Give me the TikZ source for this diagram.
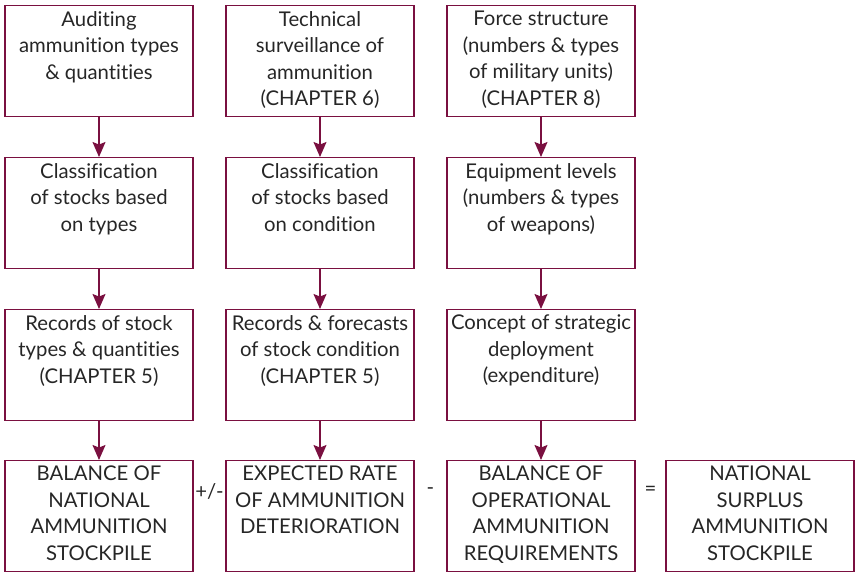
\documentclass[tikz,border=0pt]{standalone}
\usepackage{fontspec}
\setmainfont{Lato}[Ligatures=NoCommon]
\usetikzlibrary{arrows.meta,calc}

\begin{document}
\begin{tikzpicture}[x=1pt,y=-1pt,
        caja/.style={draw=vino,line width=1.3pt,anchor=north,inner xsep=4pt,inner ysep=5.5pt,
            text=tinta,font=\fontsize{20.3}{26.5}\selectfont,
            execute at begin node={\begin{minipage}[t][100pt][t]{180pt}\centering},
            execute at end node={\end{minipage}}},
        flecha/.style={draw=vino,line width=1.3pt,-{Stealth[length=15pt,width=13pt,inset=2.5pt]}},
        signo/.style={text=tinta,font=\fontsize{20.3}{26.5}\selectfont}]
    %colores
    \definecolor{vino}{RGB}{122,16,64}
    \colorlet{tinta}{black!85}

    \useasboundingbox (0,0) rectangle (855,572);

    %fila 1
    \node[caja] (a1) at (99,5) {Auditing\\ammunition types\\\& quantities};
    \node[caja] (b1) at (320,5) {Technical\\surveillance of\\ammunition\\(CHAPTER 6)};
    \node[caja] (c1) at (541,5) {Force structure\\(numbers \& types\\of military units)\\(CHAPTER 8)};

    %fila 2
    \node[caja] (a2) at (99,157) {Classification\\of stocks based\\on types};
    \node[caja] (b2) at (320,157) {Classification\\of stocks based\\on condition};
    \node[caja] (c2) at (541,157) {Equipment levels\\(numbers \& types\\of weapons)};

    %fila 3
    \node[caja] (a3) at (99,309) {Records of stock\\types \& quantities\\(CHAPTER 5)};
    \node[caja] (b3) at (320,309) {Records \& forecasts\\of stock condition\\(CHAPTER 5)};
    \node[caja] (c3) at (541,309) {Concept of strategic\\deployment\\(expenditure)};

    %fila 4
    \node[caja] (a4) at (99,460) {BALANCE OF\\NATIONAL\\AMMUNITION\\STOCKPILE};
    \node[caja] (b4) at (320,460) {EXPECTED RATE\\OF AMMUNITION\\DETERIORATION};
    \node[caja] (c4) at (541,460) {BALANCE OF\\OPERATIONAL\\AMMUNITION\\REQUIREMENTS};
    \node[caja] (d4) at (760,460) {NATIONAL\\SURPLUS\\AMMUNITION\\STOCKPILE};

    %flechas
    \foreach \c in {a,b,c}
        \foreach \r/\s in {1/2,2/3,3/4}
            \draw[flecha] (\c\r) -- (\c\s);

    %signos
    \node[signo,yshift=25pt] (mas) at ($(a4.east)!0.5!(b4.west)$) {+/-};
    \node[signo,yshift=25pt] (menos) at ($(b4.east)!0.5!(c4.west)$) {-};
    \node[signo,yshift=25pt] (igual) at ($(c4.east)!0.5!(d4.west)$) {=};
\end{tikzpicture}
\end{document}
